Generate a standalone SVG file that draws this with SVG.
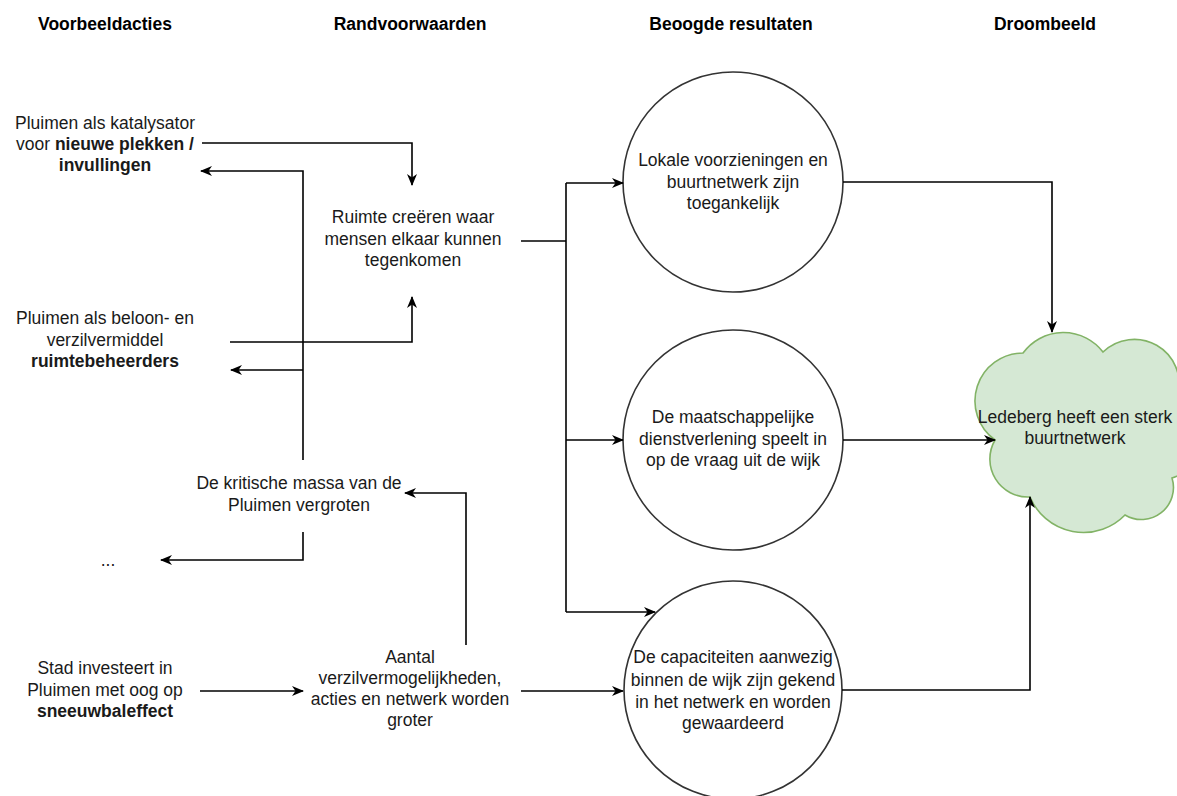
<svg xmlns="http://www.w3.org/2000/svg" width="1177" height="796" viewBox="0 0 1177 796">
<style>
text{font-family:"Liberation Sans",Arial,sans-serif;font-size:17.5px;fill:#1a1a1a;text-anchor:middle}
.h{font-weight:bold;fill:#000}
.b{font-weight:bold}
.c{fill:#fff;stroke:#333;stroke-width:1.6}
.e{fill:none;stroke:#000;stroke-width:1.6}
</style>
<defs>
<marker id="arr" viewBox="0 0 12 10" refX="11" refY="5" markerWidth="12" markerHeight="10" markerUnits="userSpaceOnUse" orient="auto">
<path d="M0,0 L12,5 L0,10 L3.5,5 Z" fill="#000"/>
</marker>
</defs>
<rect width="1177" height="796" fill="#fff"/>
<g id="headers">
<text class="h" x="105" y="30">Voorbeeldacties</text>
<text class="h" x="410" y="30">Randvoorwaarden</text>
<text class="h" x="731" y="30">Beoogde resultaten</text>
<text class="h" x="1045" y="30">Droombeeld</text>
</g>
<g id="node-katalysator">
<text x="105" y="129">Pluimen als katalysator</text>
<text x="105" y="150">voor <tspan class="b">nieuwe plekken /</tspan></text>
<text class="b" x="105" y="171">invullingen</text>
</g>
<g id="node-beloon">
<text x="105" y="324">Pluimen als beloon- en</text>
<text x="105" y="346">verzilvermiddel</text>
<text class="b" x="105" y="367">ruimtebeheerders</text>
</g>
<g id="node-dots">
<text x="108" y="566">...</text>
</g>
<g id="node-stad">
<text x="105" y="674">Stad investeert in</text>
<text x="105" y="696">Pluimen met oog op</text>
<text class="b" x="105" y="717">sneeuwbaleffect</text>
</g>
<g id="node-ruimte">
<text x="413" y="223">Ruimte creëren waar</text>
<text x="413" y="245">mensen elkaar kunnen</text>
<text x="413" y="266">tegenkomen</text>
</g>
<g id="node-massa">
<text x="299" y="489">De kritische massa van de</text>
<text x="299" y="511">Pluimen vergroten</text>
</g>
<g id="node-aantal">
<text x="410" y="663">Aantal</text>
<text x="410" y="684">verzilvermogelijkheden,</text>
<text x="410" y="705">acties en netwerk worden</text>
<text x="410" y="726">groter</text>
</g>
<g id="node-lokale">
<circle class="c" cx="733" cy="182" r="110"/>
<text x="733" y="166">Lokale voorzieningen en</text>
<text x="733" y="188">buurtnetwerk zijn</text>
<text x="733" y="209">toegankelijk</text>
</g>
<g id="node-dienst">
<circle class="c" cx="733" cy="440" r="110"/>
<text x="733" y="423">De maatschappelijke</text>
<text x="733" y="445">dienstverlening speelt in</text>
<text x="733" y="466">op de vraag uit de wijk</text>
</g>
<g id="node-capaciteiten">
<circle class="c" cx="733" cy="690" r="109"/>
<text x="733" y="663">De capaciteiten aanwezig</text>
<text x="733" y="686">binnen de wijk zijn gekend</text>
<text x="733" y="708">in het netwerk en worden</text>
<text x="733" y="729">gewaardeerd</text>
</g>
<g id="node-droombeeld">
<path d="M1023,353 A50,50 0 0 1 1103,352 A45,45 0 0 1 1178,395 A45,45 0 0 1 1172,478 A32,32 0 0 1 1125,515 A58,58 0 0 1 1030,497 A38,38 0 0 1 995,440 A48,48 0 0 1 1023,353 Z" fill="#d5e8d4" stroke="#82b366" stroke-width="1.6"/>
<text x="1075" y="423">Ledeberg heeft een sterk</text>
<text x="1075" y="444">buurtnetwerk</text>
</g>
<g id="connectors">
<path class="e" d="M202,143 H412 V185" marker-end="url(#arr)"/>
<path class="e" d="M303,460 V171 H201" marker-end="url(#arr)"/>
<path class="e" d="M303,370 H231" marker-end="url(#arr)"/>
<path class="e" d="M230,342 H412 V297" marker-end="url(#arr)"/>
<path class="e" d="M303,532 V560 H161" marker-end="url(#arr)"/>
<path class="e" d="M466,645 V493 H405" marker-end="url(#arr)"/>
<path class="e" d="M200,691 H303" marker-end="url(#arr)"/>
<path class="e" d="M521,691 H623" marker-end="url(#arr)"/>
<path class="e" d="M521,241 H566"/>
<path class="e" d="M566,183 V612"/>
<path class="e" d="M566,183 H623" marker-end="url(#arr)"/>
<path class="e" d="M566,440 H623" marker-end="url(#arr)"/>
<path class="e" d="M566,612 H655" marker-end="url(#arr)"/>
<path class="e" d="M843,182 H1052 V332" marker-end="url(#arr)"/>
<path class="e" d="M843,440 H995" marker-end="url(#arr)"/>
<path class="e" d="M842,690 H1030 V497" marker-end="url(#arr)"/>
</g>
</svg>
